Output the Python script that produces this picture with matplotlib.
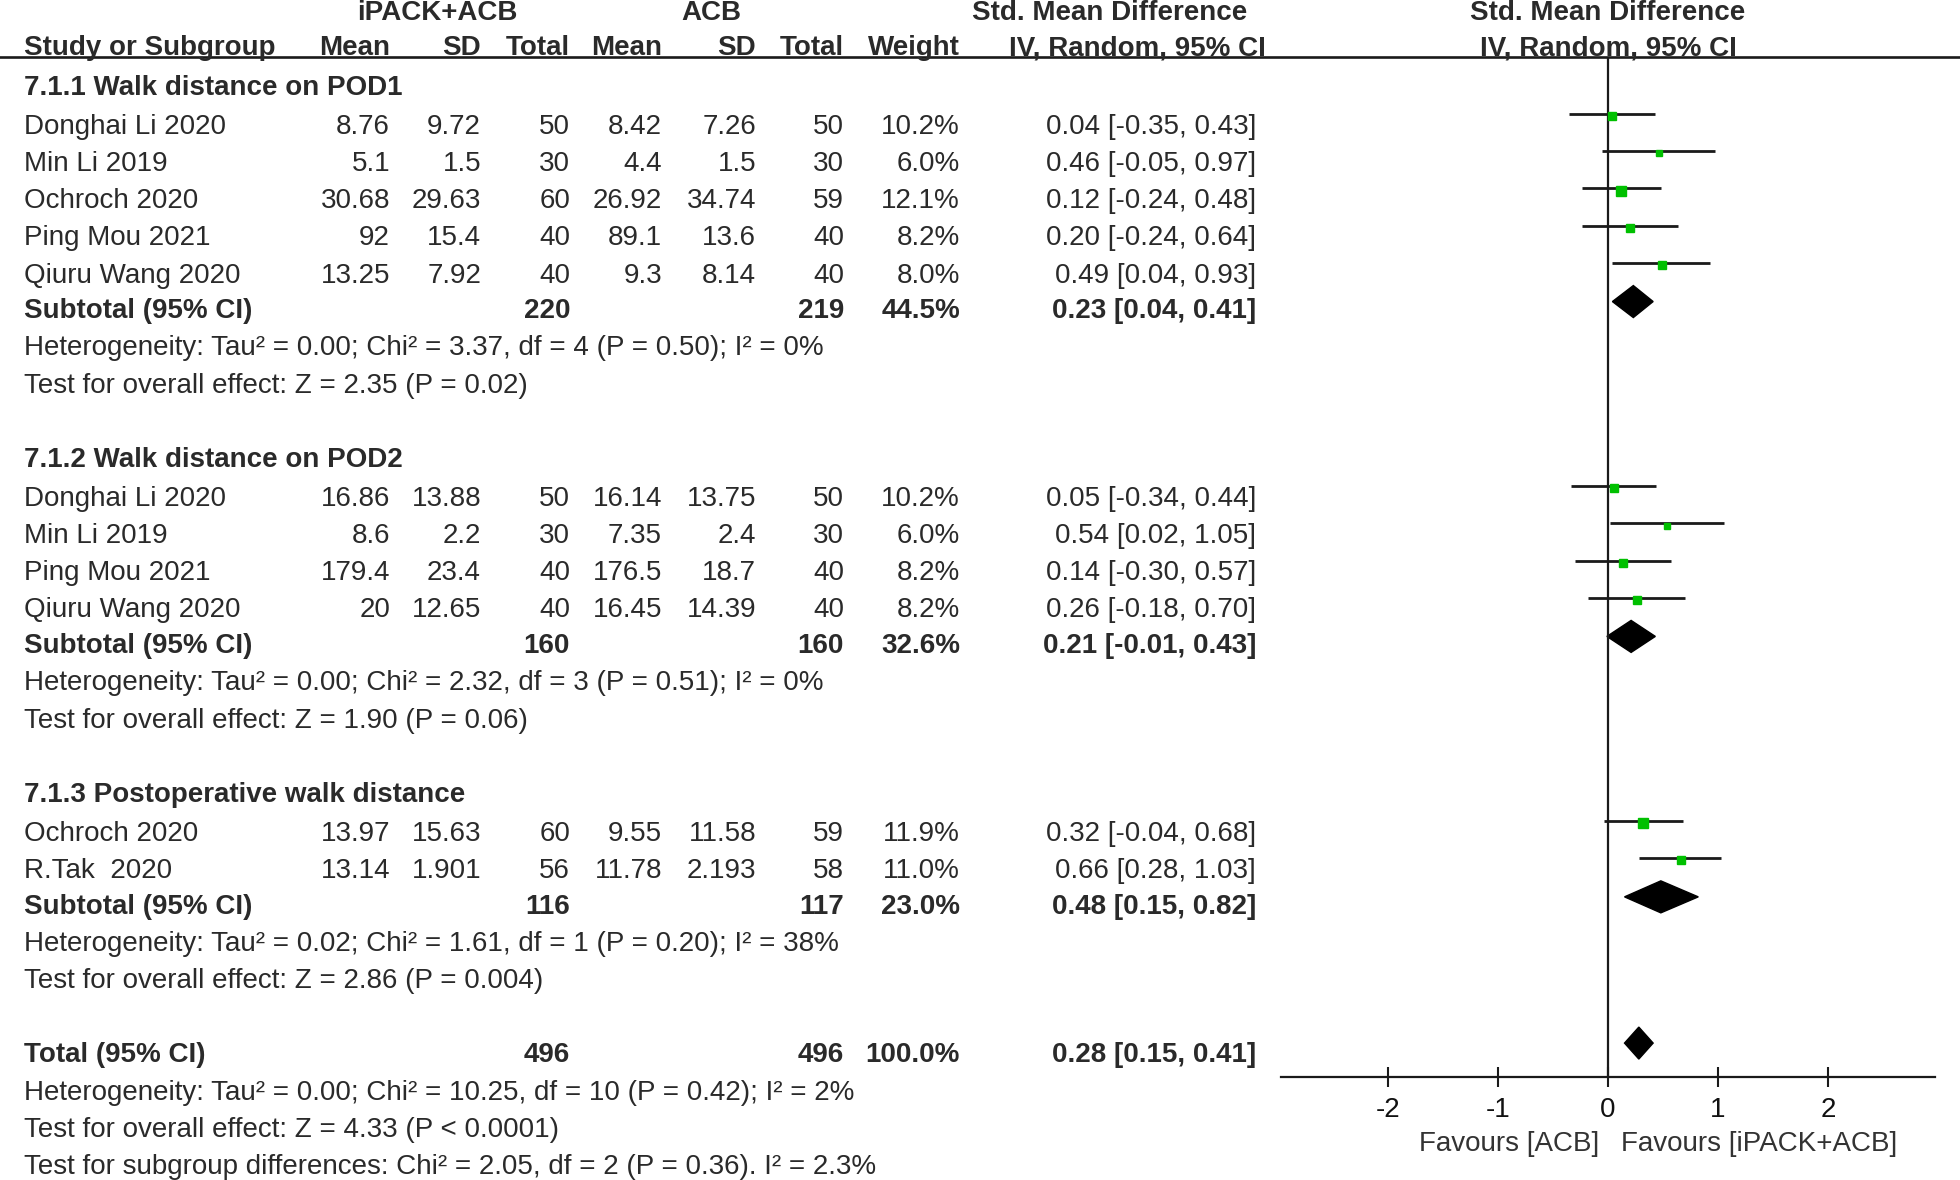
import matplotlib
matplotlib.use("Agg")
import matplotlib.pyplot as plt
from matplotlib.patches import Polygon

plt.rcParams['font.family'] = ['Liberation Sans', 'DejaVu Sans']
plt.rcParams['axes.unicode_minus'] = False

# study level data
names = ["Donghai Li 2020", "Min Li 2019", "Ochroch 2020", "Ping Mou 2021", "Qiuru Wang 2020",
         "Donghai Li 2020", "Min Li 2019", "Ping Mou 2021", "Qiuru Wang 2020",
         "Ochroch 2020", "R.Tak  2020"]
group = [0, 0, 0, 0, 0, 1, 1, 1, 1, 2, 2]
exp_mean = [8.76, 5.1, 30.68, 92, 13.25, 16.86, 8.6, 179.4, 20, 13.97, 13.14]
exp_sd = [9.72, 1.5, 29.63, 15.4, 7.92, 13.88, 2.2, 23.4, 12.65, 15.63, 1.901]
exp_n = [50, 30, 60, 40, 40, 50, 30, 40, 40, 60, 56]
ctl_mean = [8.42, 4.4, 26.92, 89.1, 9.3, 16.14, 7.35, 176.5, 16.45, 9.55, 11.78]
ctl_sd = [7.26, 1.5, 34.74, 13.6, 8.14, 13.75, 2.4, 18.7, 14.39, 11.58, 2.193]
ctl_n = [50, 30, 59, 40, 40, 50, 30, 40, 40, 59, 58]
weight = [10.2, 6.0, 12.1, 8.2, 8.0, 10.2, 6.0, 8.2, 8.2, 11.9, 11.0]
smd = [0.04, 0.46, 0.12, 0.20, 0.49, 0.05, 0.54, 0.14, 0.26, 0.32, 0.66]
lo = [-0.35, -0.05, -0.24, -0.24, 0.04, -0.34, 0.02, -0.30, -0.18, -0.04, 0.28]
hi = [0.43, 0.97, 0.48, 0.64, 0.93, 0.44, 1.05, 0.57, 0.70, 0.68, 1.03]

# subgroup data
sub_titles = ["7.1.1 Walk distance on POD1", "7.1.2 Walk distance on POD2",
              "7.1.3 Postoperative walk distance"]
sub_exp_n = [220, 160, 116]
sub_ctl_n = [219, 160, 117]
sub_w = [44.5, 32.6, 23.0]
sub_smd = [0.23, 0.21, 0.48]
sub_lo = [0.04, -0.01, 0.15]
sub_hi = [0.41, 0.43, 0.82]
sub_het = ["Heterogeneity: Tau² = 0.00; Chi² = 3.37, df = 4 (P = 0.50); I² = 0%",
           "Heterogeneity: Tau² = 0.00; Chi² = 2.32, df = 3 (P = 0.51); I² = 0%",
           "Heterogeneity: Tau² = 0.02; Chi² = 1.61, df = 1 (P = 0.20); I² = 38%"]
sub_test = ["Test for overall effect: Z = 2.35 (P = 0.02)",
            "Test for overall effect: Z = 1.90 (P = 0.06)",
            "Test for overall effect: Z = 2.86 (P = 0.004)"]

# overall
tot_exp_n, tot_ctl_n, tot_w = 496, 496, 100.0
tot_smd, tot_lo, tot_hi = 0.28, 0.15, 0.41
tot_lines = ["Heterogeneity: Tau² = 0.00; Chi² = 10.25, df = 10 (P = 0.42); I² = 2%",
             "Test for overall effect: Z = 4.33 (P < 0.0001)",
             "Test for subgroup differences: Chi² = 2.05, df = 2 (P = 0.36). I² = 2.3%"]
xticks = [-2, -1, 0, 1, 2]

TXT = '#2a2a2a'
LN = '#1a1a1a'
GREEN = '#00c000'
FS = 20
DY = 0.08  # text sits a little lower than row centre
HEAD_Y = 1.24  # header rule

fig = plt.figure(figsize=(19.6, 11.8), dpi=100)
ylim = (31.43, -0.285)

bg = fig.add_axes([0, 0, 1, 1])
bg.set_xlim(0, 1960)
bg.set_ylim(*ylim)
bg.axis('off')

fa = fig.add_axes([1281 / 1960, 0, 654 / 1960, 1])
fa.set_xlim(-2.97, 2.97)
fa.set_ylim(*ylim)
fa.patch.set_visible(False)
for s in ['left', 'right', 'top']:
    fa.spines[s].set_visible(False)
fa.spines['bottom'].set_position(('data', 28.67))
fa.spines['bottom'].set_linewidth(1.6)
fa.spines['bottom'].set_color(LN)
fa.set_yticks([])
fa.set_xticks(xticks)
fa.set_xticklabels([str(t) for t in xticks])
fa.tick_params(axis='x', direction='inout', length=14, width=1.5, color=LN,
               labelsize=FS, labelcolor='#111111', pad=7)

# column anchors (pixels, right aligned)
cols = [390, 481, 570, 662, 756, 844, 960, 1256]


def t(x, y, s, bold=False, ha='right'):
    bg.text(x, y + DY, s, fontsize=FS, color=TXT, ha=ha, va='center',
            fontweight='bold' if bold else 'normal')


# headers
h1, h2 = -0.02, 0.93
t(437, h1, "iPACK+ACB", True, 'center')
t(711, h1, "ACB", True, 'center')
t(1110, h1, "Std. Mean Difference", True, 'center')
fa.text(0, h1 + DY, "Std. Mean Difference", fontsize=FS, color=TXT, ha='center',
        va='center', fontweight='bold')
t(24, h2, "Study or Subgroup", True, 'left')
for x, s in zip(cols[:7], ["Mean", "SD", "Total", "Mean", "SD", "Total", "Weight"]):
    t(x, h2, s, True)
t(1137, h2, "IV, Random, 95% CI", True, 'center')
fa.text(0, h2 + DY, "IV, Random, 95% CI", fontsize=FS, color=TXT, ha='center',
        va='center', fontweight='bold')
bg.axhline(HEAD_Y, color=LN, lw=1.9)
fa.vlines(0, HEAD_Y, 28.67, color=LN, lw=1.6)


def diamond(y, c, l, h):
    d = 0.43
    fa.add_patch(Polygon([(l, y), (c, y - d), (h, y), (c, y + d)],
                         closed=True, color='black'))


row = 2
for g in range(3):
    t(24, row, sub_titles[g], True, 'left')
    row += 1
    for i in range(len(names)):
        if group[i] != g:
            continue
        t(24, row + 0.04, names[i], ha='left')
        vals = [f"{exp_mean[i]:g}", f"{exp_sd[i]:g}", str(exp_n[i]),
                f"{ctl_mean[i]:g}", f"{ctl_sd[i]:g}", str(ctl_n[i]),
                f"{weight[i]:.1f}%", f"{smd[i]:.2f} [{lo[i]:.2f}, {hi[i]:.2f}]"]
        for x, s in zip(cols, vals):
            t(x, row + 0.04, s)
        fa.hlines(row - 0.22, lo[i], hi[i], color=LN, lw=2.0)
        fa.plot(smd[i], row - 0.16, 's', color=GREEN, mec=GREEN,
                ms=weight[i] ** 0.5 * 1.9)
        row += 1
    t(24, row, "Subtotal (95% CI)", True, 'left')
    t(cols[2], row, str(sub_exp_n[g]), True)
    t(cols[5], row, str(sub_ctl_n[g]), True)
    t(cols[6], row, f"{sub_w[g]:.1f}%", True)
    t(cols[7], row, f"{sub_smd[g]:.2f} [{sub_lo[g]:.2f}, {sub_hi[g]:.2f}]", True)
    diamond(row - 0.18, sub_smd[g], sub_lo[g], sub_hi[g])
    t(24, row + 1, sub_het[g], ha='left')
    t(24, row + 2, sub_test[g], ha='left')
    row += 4

t(24, row, "Total (95% CI)", True, 'left')
t(cols[2], row, str(tot_exp_n), True)
t(cols[5], row, str(tot_ctl_n), True)
t(cols[6], row, f"{tot_w:.1f}%", True)
t(cols[7], row, f"{tot_smd:.2f} [{tot_lo:.2f}, {tot_hi:.2f}]", True)
diamond(row - 0.25, tot_smd, tot_lo, tot_hi)
for k, s in enumerate(tot_lines):
    t(24, row + 1 + k, s, ha='left')

fa.text(-0.08, 30.47, "Favours [ACB]", fontsize=FS, color='#333333', ha='right', va='center')
fa.text(0.12, 30.47, "Favours [iPACK+ACB]", fontsize=FS, color='#333333', ha='left', va='center')

fig.savefig("out.png", dpi=100)
